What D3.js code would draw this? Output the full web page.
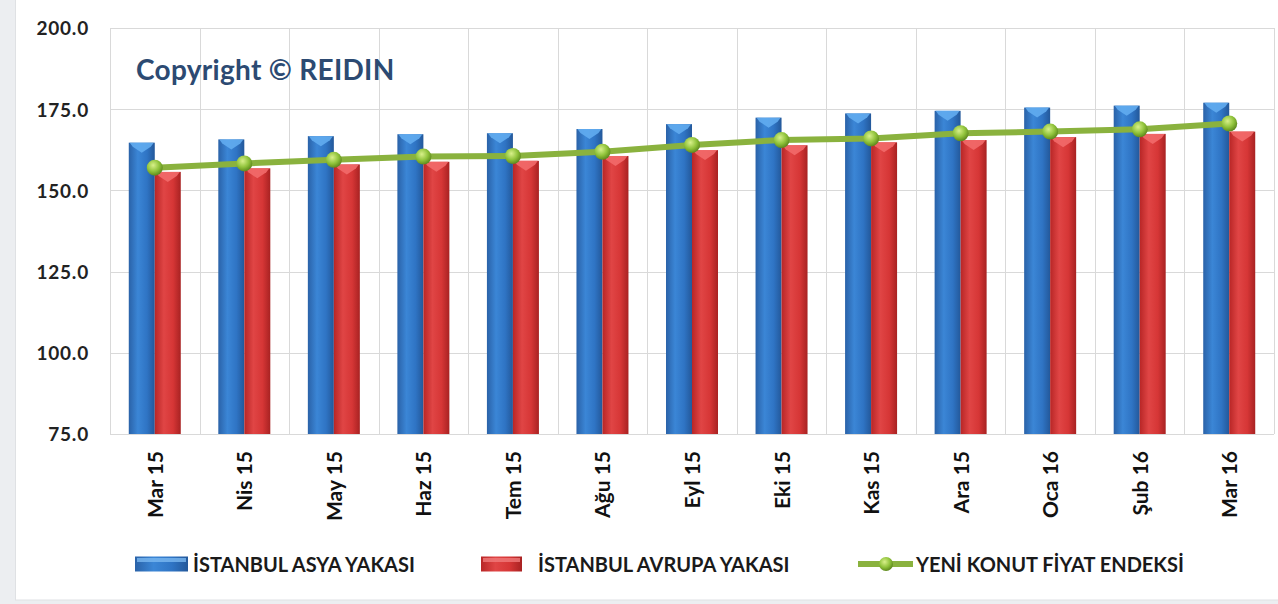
<!DOCTYPE html>
<html>
<head>
<meta charset="utf-8">
<script src="https://cdn.jsdelivr.net/npm/d3@7"></script>
<style>
  body { margin: 0; background: #eceef1; }
  svg { display: block; }
</style>
</head>
<body>
<div id="chart"></div>
<script>
// values
var months = ['Mar 15','Nis 15','May 15','Haz 15','Tem 15','Ağu 15','Eyl 15','Eki 15','Kas 15','Ara 15','Oca 16','Şub 16','Mar 16']
var asya = [164.7, 165.7, 166.7, 167.3, 167.6, 168.9, 170.4, 172.4, 173.7, 174.5, 175.5, 176.1, 177.0]
var avrupa = [155.7, 156.8, 158.0, 158.8, 159.1, 160.6, 162.4, 163.9, 164.8, 165.5, 166.4, 167.4, 168.1]
var endeks = [157.0, 158.3, 159.4, 160.4, 160.6, 161.9, 164.0, 165.5, 166.0, 167.6, 168.1, 168.8, 170.6]
var yTicks = [75, 100, 125, 150, 175, 200]
var seriesNames = ['İSTANBUL ASYA YAKASI', 'İSTANBUL AVRUPA YAKASI', 'YENİ KONUT FİYAT ENDEKSİ']

var W = 1278, H = 604
var font = 'Lato, "Open Sans", sans-serif'

var svg = d3.select('#chart').append('svg')
    .attr('width', W).attr('height', H)

// gradients
var defs = svg.append('defs')
var grad = (id, stops) => {
    var g = defs.append('linearGradient').attr('id', id)
        .attr('x1', 0).attr('x2', 1).attr('y1', 0).attr('y2', 0)
    stops.forEach(s => g.append('stop').attr('offset', s[0]).attr('stop-color', s[1]))
}
grad('gBlue', [[0, '#2a62a8'], [0.35, '#3b86d6'], [0.7, '#2f74c4'], [1, '#23589a']])
grad('gRed', [[0, '#b82626'], [0.35, '#e04545'], [0.7, '#d63636'], [1, '#a82222']])
var rg = defs.append('radialGradient').attr('id', 'gDot').attr('cx', 0.4).attr('cy', 0.35).attr('r', 0.65)
rg.append('stop').attr('offset', 0).attr('stop-color', '#d8f08a')
rg.append('stop').attr('offset', 0.6).attr('stop-color', '#8fc23a')
rg.append('stop').attr('offset', 1).attr('stop-color', '#5f8a1e')

// white chart area
svg.append('rect').attr('x', 15.5).attr('y', -1).attr('width', W - 15).attr('height', 601)
    .attr('fill', '#fff').attr('stroke', '#dfe1e4')

var plotL = 110, plotR = 1274, plotT = 28, plotB = 434

var x = d3.scaleBand().domain(months).range([plotL, plotR])
var y = d3.scaleLinear().domain([75, 200]).range([plotB, plotT])

var barW = 26

// grid
var grid = svg.append('g').attr('stroke', '#d9d9d9').attr('stroke-width', 1)
grid.selectAll('.h').data(yTicks).enter().append('line')
    .attr('x1', plotL).attr('x2', plotR)
    .attr('y1', d => Math.round(y(d)) + 0.5).attr('y2', d => Math.round(y(d)) + 0.5)
grid.selectAll('.v').data(months.concat(['end'])).enter().append('line')
    .attr('x1', (d, i) => Math.round(plotL + i * x.step()) + 0.5)
    .attr('x2', (d, i) => Math.round(plotL + i * x.step()) + 0.5)
    .attr('y1', plotT).attr('y2', plotB)

// y axis labels
var yAxis = d3.axisLeft(y).tickValues(yTicks).tickFormat(d3.format('.1f')).tickSize(0).tickPadding(0)
var ya = svg.append('g').attr('transform', 'translate(89,0)').call(yAxis)
ya.select('.domain').remove()
ya.selectAll('text')
    .style('font-family', font).style('font-weight', 'bold').style('font-size', '19px')
    .style('letter-spacing', '0.8px')
    .attr('fill', '#222').attr('dy', '0.36em')

// copyright
svg.append('text').attr('x', 136).attr('y', 80)
    .text('Copyright © REIDIN')
    .style('font-family', font).style('font-weight', 'bold').style('font-size', '28px')
    .style('letter-spacing', '0.3px')
    .attr('fill', '#2c4a72')

// bars
var bars = (data, fill, light, dx) => {
    var g = svg.append('g')
    g.selectAll('rect').data(data).enter().append('rect')
        .attr('x', (d, i) => x(months[i]) + x.bandwidth() / 2 + dx)
        .attr('y', d => y(d))
        .attr('width', barW)
        .attr('height', d => plotB - y(d))
        .attr('fill', fill)
    // bevelled top, chevron like the 3d excel bars
    g.selectAll('path').data(data).enter().append('path')
        .attr('d', (d, i) => {
            var x0 = x(months[i]) + x.bandwidth() / 2 + dx, y0 = y(d)
            return `M${x0 + 1},${y0}L${x0 + barW - 1},${y0}L${x0 + barW - 4},${y0 + 4}L${x0 + barW / 2},${y0 + 10}L${x0 + 4},${y0 + 4}Z`
        })
        .attr('fill', light).attr('opacity', 0.9)
}
bars(asya, 'url(#gBlue)', '#62acf0', -barW)
bars(avrupa, 'url(#gRed)', '#f26a6a', 0)

// line
var line = d3.line()
    .x((d, i) => x(months[i]) + x.bandwidth() / 2)
    .y(d => y(d))
svg.append('path').datum(endeks)
    .attr('d', line)
    .attr('fill', 'none').attr('stroke', '#8ab23e').attr('stroke-width', 6)
    .attr('stroke-linecap', 'round')
svg.append('g').selectAll('circle').data(endeks).enter().append('circle')
    .attr('cx', (d, i) => x(months[i]) + x.bandwidth() / 2)
    .attr('cy', d => y(d))
    .attr('r', 8)
    .attr('fill', 'url(#gDot)')

// x labels
svg.append('g').selectAll('text').data(months).enter().append('text')
    .attr('transform', d => `translate(${x(d) + x.bandwidth() / 2 + 8},451) rotate(-90)`)
    .attr('text-anchor', 'end')
    .text(d => d)
    .style('font-family', font).style('font-weight', 'bold').style('font-size', '21px')
    .attr('fill', '#111')

// legend
var leg = svg.append('g')
var legY = 564
var sw = [[135, 53, 'url(#gBlue)', '#7ab8f0'], [481, 41, 'url(#gRed)', '#f07a7a']]
sw.forEach(s => {
    leg.append('rect').attr('x', s[0]).attr('y', legY - 7.5).attr('width', s[1]).attr('height', 15)
        .attr('fill', s[2])
    leg.append('rect').attr('x', s[0] + 2).attr('y', legY - 6).attr('width', s[1] - 4).attr('height', 4)
        .attr('fill', s[3]).attr('opacity', 0.8)
})
leg.append('line').attr('x1', 858).attr('x2', 913).attr('y1', legY).attr('y2', legY)
    .attr('stroke', '#8ab23e').attr('stroke-width', 6)
leg.append('circle').attr('cx', 886).attr('cy', legY).attr('r', 7).attr('fill', 'url(#gDot)')
var legX = [193, 538, 916]
leg.selectAll('text').data(seriesNames).enter().append('text')
    .attr('x', (d, i) => legX[i]).attr('y', legY + 7.5)
    .text(d => d)
    .style('font-family', font).style('font-weight', 'bold').style('font-size', '20px')
    .attr('fill', '#1a1a1a')
</script>
</body>
</html>
